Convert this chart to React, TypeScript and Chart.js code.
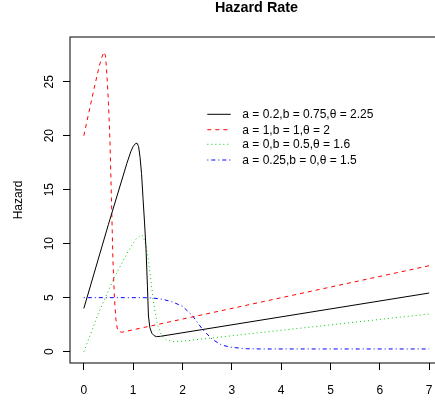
import React, { useEffect, useRef } from "react";
import { Chart, registerables } from "chart.js";

Chart.register(...registerables);

const FONT = "'Liberation Sans', Arial, Helvetica, sans-serif";

const chartTitle = "Hazard Rate";
const yTitle = "Hazard";
const xTicks = [0, 1, 2, 3, 4, 5, 6, 7];
const yTicks = [0, 5, 10, 15, 20, 25];

const seriesLabels = [
  "a = 0.2,b = 0.75,θ = 2.25",
  "a = 1,b = 1,θ = 2",
  "a = 0,b = 0.5,θ = 1.6",
  "a = 0.25,b = 0,θ = 1.5",
];
const seriesColors = ["#000000", "#FF0000", "#00CD00", "#0000FF"];
const seriesDash: number[][] = [[], [4, 4], [1, 3], [1, 3, 4, 3]];

const blackX = [0, 0.5, 0.87, 0.95, 1.0, 1.05, 1.08, 1.11, 1.14, 1.17, 1.2, 1.23, 1.26, 1.29, 1.31, 1.34, 1.38, 1.42, 1.47, 1.55, 7];
const blackY = [4, 11.8, 17.4, 18.5, 19.0, 19.28, 19.3, 19.0, 18.0, 16.5, 14.2, 12.0, 9.6, 6.0, 3.3, 2.2, 1.7, 1.5, 1.39, 1.42, 5.43];

const redX = [0, 0.1, 0.2, 0.3, 0.36, 0.41, 0.44, 0.47, 0.5, 0.53, 0.56, 0.59, 0.62, 0.65, 0.68, 0.72, 0.77, 7];
const redY = [20, 22.1, 24.2, 26.2, 27.2, 27.75, 27.4, 25.5, 23, 19.5, 14.2, 8.5, 5.0, 3.0, 2.1, 1.85, 1.8, 7.96];

const greenX = [0, 0.3, 0.6, 0.9, 1.05, 1.15, 1.2, 1.25, 1.3, 1.35, 1.4, 1.45, 1.5, 1.58, 1.67, 1.8, 2.0, 7];
const greenY = [0, 3.6, 6.7, 9.3, 10.4, 10.8, 10.7, 10.0, 8.8, 7.0, 5.0, 3.5, 2.4, 1.5, 1.1, 0.93, 0.97, 3.49];

const blueX = [0, 1.2, 1.4, 1.6, 1.8, 2.0, 2.2, 2.4, 2.6, 2.8, 3.0, 3.3, 3.6, 7];
const blueY = [5, 5, 4.97, 4.85, 4.6, 4.2, 3.35, 2.1, 1.15, 0.6, 0.4, 0.27, 0.25, 0.25];

const seriesX = [blackX, redX, greenX, blueX];
const seriesY = [blackY, redY, greenY, blueY];

const overlayPlugin = {
  id: "rOverlay",
  afterDraw(chart: any) {
    const ctx = chart.ctx as CanvasRenderingContext2D;
    const { left, top, right, bottom } = chart.chartArea;
    const ys = chart.scales.y;
    ctx.save();
    // box
    ctx.strokeStyle = "#000";
    ctx.lineWidth = 1;
    ctx.setLineDash([]);
    ctx.strokeRect(left, top, right - left, bottom - top);

    // title
    ctx.fillStyle = "#000";
    ctx.font = `bold 14.4px ${FONT}`;
    ctx.textAlign = "center";
    ctx.textBaseline = "alphabetic";
    ctx.fillText(chartTitle, (left + right) / 2, 12);

    // y tick labels (rotated, R style)
    ctx.font = `12px ${FONT}`;
    for (const t of ys.ticks) {
      const py = ys.getPixelForValue(t.value);
      ctx.save();
      ctx.translate(52.5, py);
      ctx.rotate(-Math.PI / 2);
      ctx.textAlign = "center";
      ctx.textBaseline = "alphabetic";
      ctx.fillText(String(t.value), 0, 0);
      ctx.restore();
    }

    // y axis title
    ctx.save();
    ctx.translate(21.7, (top + bottom) / 2);
    ctx.rotate(-Math.PI / 2);
    ctx.textAlign = "center";
    ctx.textBaseline = "alphabetic";
    ctx.fillText(yTitle, 0, 0);
    ctx.restore();

    // legend
    const rowY = [114.3, 129.7, 144.3, 160];
    chart.data.datasets.forEach((ds: any, i: number) => {
      const y = rowY[i];
      ctx.strokeStyle = ds.borderColor;
      ctx.lineWidth = 1;
      ctx.setLineDash(ds.borderDash || []);
      ctx.beginPath();
      ctx.moveTo(207.3, y);
      ctx.lineTo(230.7, y);
      ctx.stroke();
      ctx.setLineDash([]);
      ctx.fillStyle = "#000";
      ctx.textAlign = "left";
      ctx.textBaseline = "middle";
      ctx.fillText(ds.label, 242.3, y + 0.5);
    });
    ctx.restore();
  },
};

export default function App() {
  const ref = useRef<HTMLCanvasElement | null>(null);
  useEffect(() => {
    if (!ref.current) return;
    const chart = new Chart(ref.current, {
      type: "line",
      data: {
        datasets: seriesLabels.map((label, i) => ({
          label,
          data: seriesX[i].map((x, j) => ({ x, y: seriesY[i][j] })),
          borderColor: seriesColors[i],
          backgroundColor: seriesColors[i],
          borderWidth: 1,
          borderDash: seriesDash[i],
          pointRadius: 0,
          tension: 0,
          fill: false,
        })),
      },
      options: {
        responsive: false,
        animation: false,
        layout: { padding: { top: 37, right: 17, left: 0, bottom: 0 } },
        plugins: {
          legend: { display: false },
          title: { display: false },
          tooltip: { enabled: false },
        },
        scales: {
          x: {
            type: "linear",
            min: -0.28,
            max: 7.28,
            afterFit: (s: any) => {
              s.height = 37;
            },
            afterBuildTicks: (s: any) => {
              s.ticks = xTicks.map((v) => ({ value: v }));
            },
            grid: { drawOnChartArea: false, drawTicks: true, tickLength: 7, color: "#000", lineWidth: 1 },
            border: { display: false },
            ticks: {
              font: { family: FONT, size: 12 },
              color: "#000",
              padding: 13,
              maxRotation: 0,
              autoSkip: false,
              callback: (v: any) => String(v),
            },
          },
          y: {
            type: "linear",
            min: -1.05,
            max: 29.14,
            afterFit: (s: any) => {
              s.width = 70;
            },
            afterBuildTicks: (s: any) => {
              s.ticks = yTicks.map((v) => ({ value: v }));
            },
            grid: { drawOnChartArea: false, drawTicks: true, tickLength: 7, color: "#000", lineWidth: 1 },
            border: { display: false },
            ticks: { display: false },
          },
        },
      },
      plugins: [overlayPlugin],
    });
    return () => chart.destroy();
  }, []);
  return (
    <div style={{ position: "absolute", left: 0, top: 0, width: 435, height: 400, overflow: "hidden", background: "#fff" }}>
      <canvas ref={ref} width={460} height={400} style={{ display: "block" }} />
    </div>
  );
}
